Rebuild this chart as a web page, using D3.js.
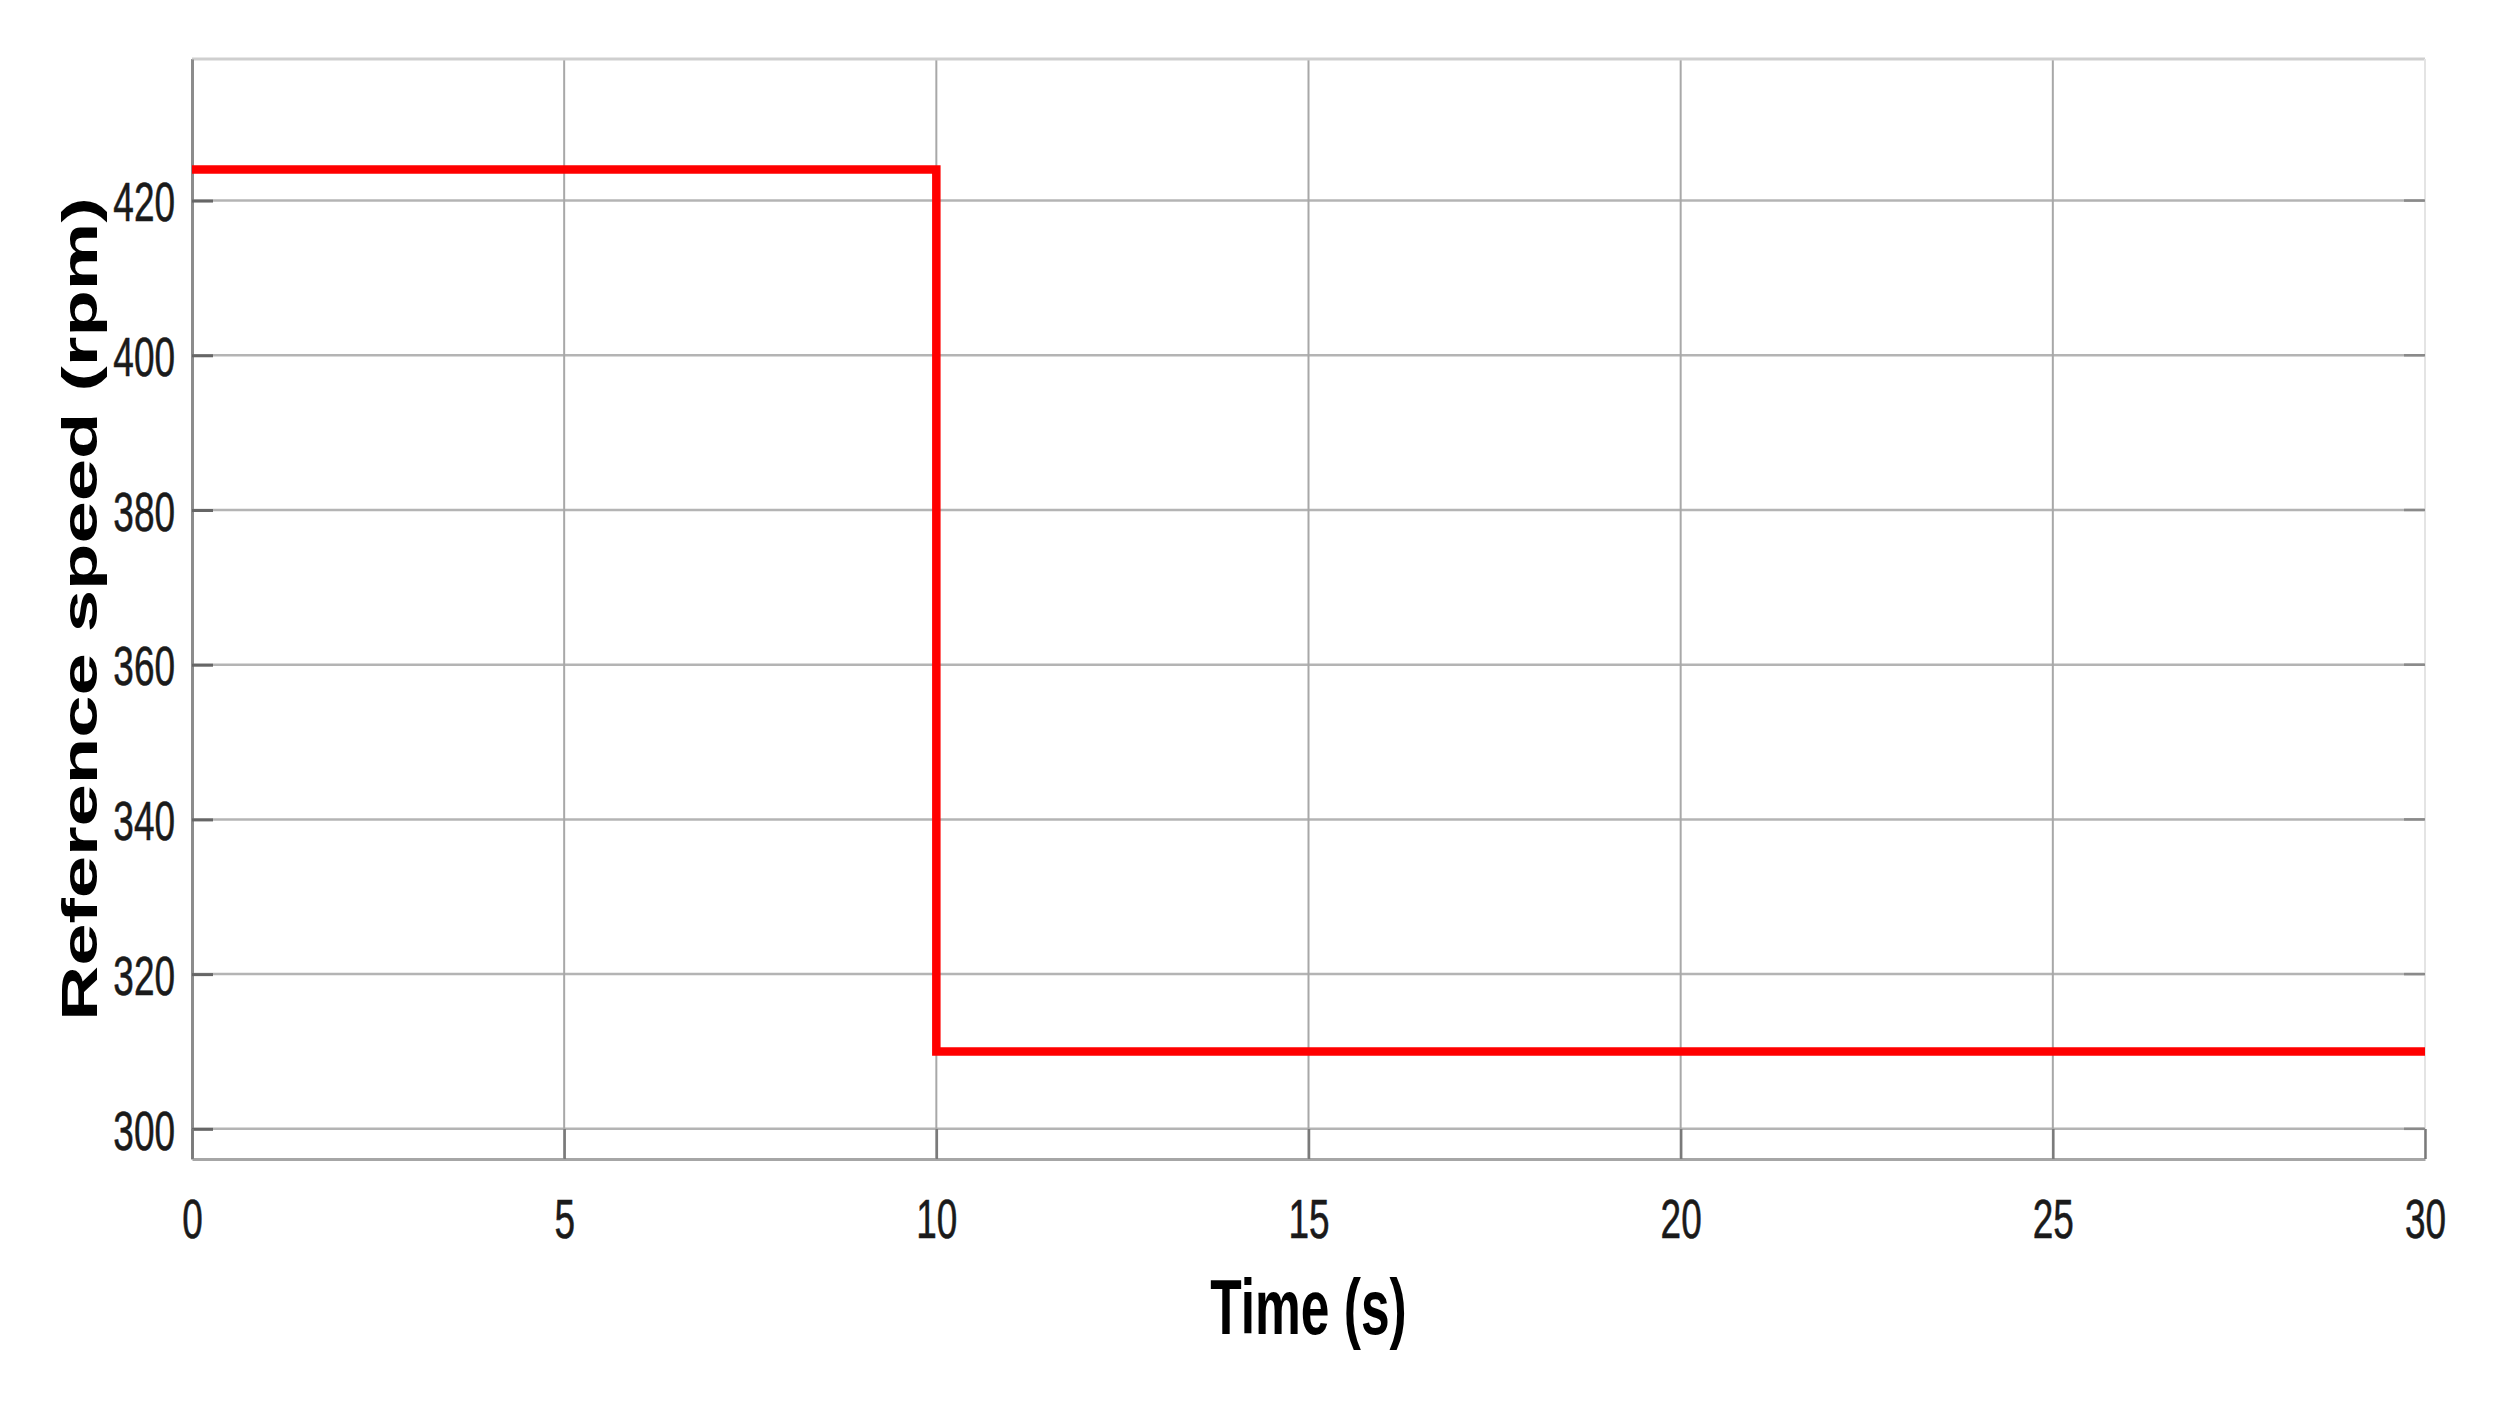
<!DOCTYPE html>
<html>
<head>
<meta charset="utf-8">
<script src="https://cdn.jsdelivr.net/npm/d3@7"></script>
<style>
    html, body { margin: 0; padding: 0; background: #fff; }
    svg { display: block; }
</style>
</head>
<body>
<svg id="speed-chart" width="2493" height="1413"></svg>
<script>
// reference speed profile (step after each time)
var timeS = [0, 10, 30];
var speedRpm = [424, 310, 310];

var xTicks = [0, 5, 10, 15, 20, 25, 30];
var yTicks = [300, 320, 340, 360, 380, 400, 420];
var xDomain = [0, 30];
var yDomain = [296.1, 438.3];

var xTitle = "Time (s)";
var yTitle = "Reference speed (rpm)";

// the source picture is squeezed sideways, so text is too
var squeeze = 0.66;

var svg = d3.select("#speed-chart"),
    margin = { top: 59, right: 68, bottom: 254, left: 192 },
    width = +svg.attr("width") - margin.left - margin.right,
    height = +svg.attr("height") - margin.top - margin.bottom;

var x = d3.scaleLinear().domain(xDomain).range([0, width]);
var y = d3.scaleLinear().domain(yDomain).range([height, 0]);

var g = svg.append("g")
    .attr("transform", "translate(" + margin.left + "," + margin.top + ")");

// grid
g.append("g")
    .attr("class", "grid-y")
    .selectAll("line")
    .data(yTicks)
    .enter().append("line")
    .attr("x1", 0)
    .attr("x2", width)
    .attr("y1", function (d) { return y(d); })
    .attr("y2", function (d) { return y(d); })
    .attr("stroke", "#b4b4b4")
    .attr("stroke-width", 2.5);

g.append("g")
    .attr("class", "grid-x")
    .selectAll("line")
    .data(xTicks)
    .enter().append("line")
    .attr("x1", function (d) { return x(d); })
    .attr("x2", function (d) { return x(d); })
    .attr("y1", 0)
    .attr("y2", height)
    .attr("stroke", "#a8a8a8")
    .attr("stroke-width", 2);

// box
g.append("line").attr("x1", 0).attr("x2", width).attr("y1", 0).attr("y2", 0)
    .attr("stroke", "#cfcfcf").attr("stroke-width", 3);
g.append("line").attr("x1", width).attr("x2", width).attr("y1", 0).attr("y2", height)
    .attr("stroke", "#e4e4e4").attr("stroke-width", 2);

// axes with inward ticks
var yAxis = g.append("g")
    .attr("class", "axis-y")
    .call(d3.axisLeft(y).tickValues(yTicks).tickSize(-21).tickPadding(0).tickSizeOuter(0));

var xAxis = g.append("g")
    .attr("class", "axis-x")
    .attr("transform", "translate(0," + height + ")")
    .call(d3.axisBottom(x).tickValues(xTicks).tickSize(-30).tickPadding(0).tickSizeOuter(0));

// right side ticks too
g.append("g")
    .selectAll("line")
    .data(yTicks)
    .enter().append("line")
    .attr("x1", width - 21)
    .attr("x2", width)
    .attr("y1", function (d) { return y(d); })
    .attr("y2", function (d) { return y(d); })
    .attr("stroke", "#8a8a8a")
    .attr("stroke-width", 2.5);

yAxis.select(".domain").attr("stroke", "#8c8c8c").attr("stroke-width", 3);
xAxis.select(".domain").attr("stroke", "#a6a6a6").attr("stroke-width", 3);
yAxis.selectAll(".tick line").attr("stroke", "#666").attr("stroke-width", 3);
xAxis.selectAll(".tick line").attr("stroke", "#7a7a7a").attr("stroke-width", 2.5);

yAxis.selectAll(".tick text")
    .attr("x", -17 / squeeze)
    .attr("dy", "0.36em")
    .attr("transform", "scale(" + squeeze + ",1)")
    .attr("font-family", "Liberation Sans, Arial, sans-serif")
    .attr("font-size", 56)
    .attr("stroke", "#1a1a1a")
    .attr("stroke-width", 0.6)
    .attr("fill", "#1a1a1a");

xAxis.selectAll(".tick text")
    .attr("y", 79)
    .attr("dy", 0)
    .attr("transform", "scale(" + squeeze + ",1)")
    .attr("font-family", "Liberation Sans, Arial, sans-serif")
    .attr("font-size", 56)
    .attr("stroke", "#1a1a1a")
    .attr("stroke-width", 0.6)
    .attr("fill", "#1a1a1a");

// the speed step
var line = d3.line()
    .x(function (d, i) { return x(timeS[i]); })
    .y(function (d) { return y(d); })
    .curve(d3.curveStepAfter);

g.append("path")
    .datum(speedRpm)
    .attr("fill", "none")
    .attr("stroke", "#ff0000")
    .attr("stroke-width", 8.5)
    .attr("d", line);

// titles
svg.append("text")
    .attr("transform", "translate(" + (margin.left + width / 2) + ",1334) scale(" + squeeze + ",1)")
    .attr("text-anchor", "middle")
    .attr("font-family", "Liberation Sans, Arial, sans-serif")
    .attr("font-weight", "bold")
    .attr("font-size", 78)
    .attr("fill", "#000")
    .text(xTitle);

svg.append("text")
    .attr("transform", "translate(97," + (margin.top + height / 2) + ") scale(" + squeeze + ",1) rotate(-90)")
    .attr("text-anchor", "middle")
    .attr("font-family", "Liberation Sans, Arial, sans-serif")
    .attr("font-weight", "bold")
    .attr("font-size", 76)
    .attr("fill", "#000")
    .text(yTitle);
</script>
</body>
</html>
